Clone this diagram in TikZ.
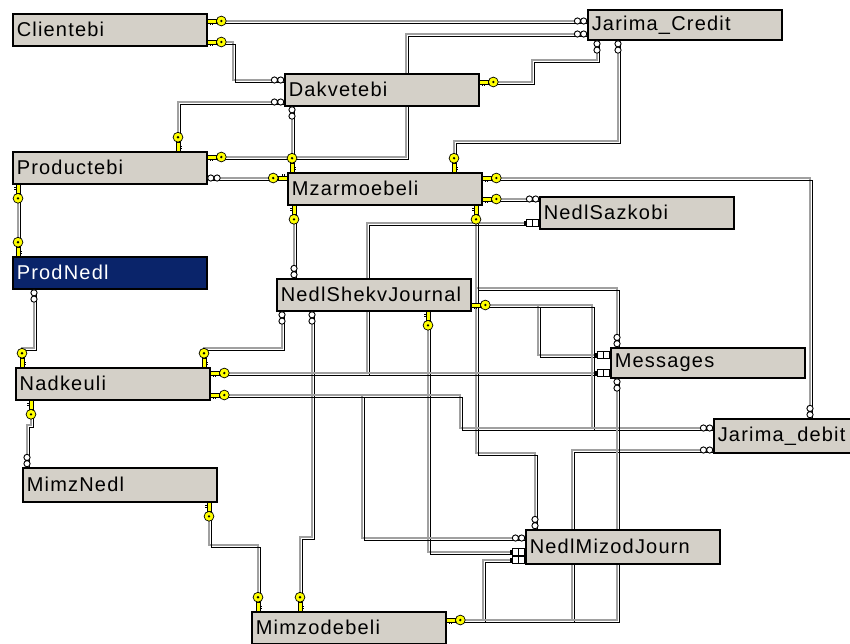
\documentclass[tikz,border=0pt]{standalone}
\usepackage{fontspec}
\setmainfont{Liberation Sans}
\newfontfamily\tblfont[LetterSpace=6]{Liberation Sans}
\usetikzlibrary{positioning, backgrounds}

\definecolor{winface}{HTML}{D4D0C8}
\definecolor{selblue}{HTML}{0A246A}
\definecolor{keyyellow}{HTML}{FFFF00}
\definecolor{shadegray}{HTML}{A0A0A0}

% relationship line: grey shade plus black core
\newcommand{\relpath}[1]{\draw[rel_shade] #1; \draw[rel_core] #1;}

\begin{document}
\begin{tikzpicture}[
    x=1pt, y=-1pt,
    % Table boxes
    table_box/.style={draw=black, line width=1.5pt, fill=winface, anchor=north west,
        minimum width=194pt, minimum height=32pt, text width=186pt, inner xsep=4pt,
        align=left, font=\tblfont\fontsize{20}{22}\selectfont},
    sel_box/.style={table_box, fill=selblue, text=white},
    % Relationship lines
    rel_shade/.style={draw=shadegray, line width=2.6pt},
    rel_core/.style={draw=black, line width=1.7pt, transform canvas={xshift=2.6pt, yshift=-2.6pt}},
    % Line ends
    key_end/.pic={
        \filldraw[fill=keyyellow, draw=black, line width=0.5pt] (0,-1.9) rectangle (9,1.9);
        \draw[black, line width=0.9pt] (2.5,1.9) -- (2.5,4.2) (5,1.9) -- (5,4.2);
        \filldraw[fill=keyyellow, draw=black, line width=0.7pt] (13.8,0) circle (4.9pt);
        \fill[black] (13.8,0) circle (1.3pt);
    },
    many_end/.pic={
        \filldraw[fill=white, draw=black, line width=0.9pt] (3.3,0) circle (3.1pt) (9.6,0) circle (3.1pt);
    },
    box_end/.pic={
        \filldraw[fill=white, draw=black, line width=0.9pt] (0.5,-3.2) rectangle (6.4,3.2) (6.4,-3.2) rectangle (12.3,3.2);
        \fill[black] (12.3,-2.2) rectangle (15.5,2.2);
    }
]
    \useasboundingbox (0,0) rectangle (850,643);

    % --- TABLES ---
    \node[table_box, minimum height=30pt] (jcr) at (587,9) {Jarima\_Credit};
    \node[table_box] (cli) at (12,13) {Clientebi};
    \node[table_box] (dak) at (284,73) {Dakvetebi};
    \node[table_box] (prd) at (12,151) {Productebi};
    \node[table_box] (mza) at (287,172) {Mzarmoebeli};
    \node[table_box] (nsz) at (539,196) {NedlSazkobi};
    \node[sel_box] (pnd) at (12,256) {ProdNedl};
    \node[table_box] (nsj) at (276,278) {NedlShekvJournal};
    \node[table_box, minimum height=30pt] (msg) at (610,347) {Messages};
    \node[table_box] (nad) at (15,367) {Nadkeuli};
    \node[table_box, minimum height=34pt] (jdb) at (713,418) {Jarima\_debit};
    \node[table_box, minimum height=34pt] (mmn) at (22,467) {MimzNedl};
    \node[table_box, minimum height=34pt] (nmj) at (525,529) {NedlMizodJourn};
    \node[table_box] (mmz) at (251,611) {Mimzodebeli};

    % --- RELATIONSHIPS ---
    \begin{pgfonlayer}{background}
        \relpath{(cli.east |- 0,21) -- (jcr.west |- 0,21)}
        \relpath{(cli.east |- 0,42) -| (233,80) -- (dak.west |- 0,80)}
        \relpath{(prd.east |- 0,157) -| (406,34) -- (jcr.west |- 0,34)}
        \relpath{(dak.east |- 0,82) -| (532,60) -| (jcr.south -| 597,0)}
        \relpath{(mza.north -| 454,0) |- (618,141) -- (jcr.south -| 618,0)}
        \relpath{(prd.north -| 178,0) |- (dak.west |- 0,102)}
        \relpath{(dak.south -| 292,0) -- (mza.north -| 292,0)}
        \relpath{(prd.east |- 0,178) -- (mza.west |- 0,178)}
        \relpath{(prd.south -| 18,0) -- (pnd.north -| 18,0)}
        \relpath{(pnd.south -| 34,0) |- (22,348) -- (nad.north -| 22,0)}
        \relpath{(nad.south -| 31,0) |- (27,425) -- (mmn.north -| 27,0)}
        \relpath{(mmn.south -| 209,0) |- (258,545) -- (mmz.north -| 258,0)}
        \relpath{(mza.south -| 294,0) -- (nsj.north -| 294,0)}
        \relpath{(nsj.south -| 282,0) |- (204,348) -- (nad.north -| 204,0)}
        \relpath{(nsj.south -| 312,0) |- (300,537) -- (mmz.north -| 300,0)}
        \relpath{(nsj.south -| 428,0) |- (nmj.west |- 0,552)}
        \relpath{(mza.south -| 476,0) |- (535,453) -- (nmj.north -| 535,0)}
        \relpath{(mza.south -| 476,0) |- (617,288) -- (msg.north -| 617,0)}
        \relpath{(mza.east |- 0,178) -| (jdb.north -| 810,0)}
        \relpath{(mza.east |- 0,199) -- (nsz.west |- 0,199)}
        \relpath{(nad.east |- 0,373) -| (367,223) -- (nsz.west |- 0,223)}
        \relpath{(nad.east |- 0,373) -- (msg.west |- 0,373)}
        \relpath{(nsj.east |- 0,305) -| (538,355) -- (msg.west |- 0,355)}
        \relpath{(nsj.east |- 0,305) -| (592,428) -- (jdb.west |- 0,428)}
        \relpath{(nad.east |- 0,395) -| (460,428) -- (jdb.west |- 0,428)}
        \relpath{(nad.east |- 0,395) -| (362,538) -- (nmj.west |- 0,538)}
        \relpath{(mmz.east |- 0,620) -| (483,560) -- (nmj.west |- 0,560)}
        \relpath{(mmz.east |- 0,620) -| (572,450) -- (jdb.west |- 0,450)}
        \relpath{(mmz.east |- 0,620) -| (msg.south -| 617,0)}
    \end{pgfonlayer}

    % --- KEY ENDS ---
    \pic at (cli.east |- 0,21) {key_end};
    \pic at (cli.east |- 0,42) {key_end};
    \pic at (prd.east |- 0,157) {key_end};
    \pic at (dak.east |- 0,82) {key_end};
    \pic[rotate=90] at (mza.north -| 454,0) {key_end};
    \pic[rotate=90] at (prd.north -| 178,0) {key_end};
    \pic[rotate=90] at (mza.north -| 292,0) {key_end};
    \pic[rotate=180] at (mza.west |- 0,178) {key_end};
    \pic[rotate=-90] at (prd.south -| 18,0) {key_end};
    \pic[rotate=90] at (pnd.north -| 18,0) {key_end};
    \pic[rotate=90] at (nad.north -| 22,0) {key_end};
    \pic[rotate=-90] at (nad.south -| 31,0) {key_end};
    \pic[rotate=-90] at (mmn.south -| 209,0) {key_end};
    \pic[rotate=90] at (mmz.north -| 258,0) {key_end};
    \pic[rotate=-90] at (mza.south -| 294,0) {key_end};
    \pic[rotate=90] at (nad.north -| 204,0) {key_end};
    \pic[rotate=90] at (mmz.north -| 300,0) {key_end};
    \pic[rotate=-90] at (nsj.south -| 428,0) {key_end};
    \pic[rotate=-90] at (mza.south -| 476,0) {key_end};
    \pic at (mza.east |- 0,178) {key_end};
    \pic at (mza.east |- 0,199) {key_end};
    \pic at (nad.east |- 0,373) {key_end};
    \pic at (nad.east |- 0,395) {key_end};
    \pic at (nsj.east |- 0,305) {key_end};
    \pic at (mmz.east |- 0,620) {key_end};

    % --- MANY ENDS ---
    \pic[rotate=180] at (jcr.west |- 0,21) {many_end};
    \pic[rotate=180] at (jcr.west |- 0,34) {many_end};
    \pic[rotate=180] at (dak.west |- 0,80) {many_end};
    \pic[rotate=180] at (dak.west |- 0,102) {many_end};
    \pic[rotate=-90] at (jcr.south -| 597,0) {many_end};
    \pic[rotate=-90] at (jcr.south -| 618,0) {many_end};
    \pic[rotate=-90] at (dak.south -| 292,0) {many_end};
    \pic at (prd.east |- 0,178) {many_end};
    \pic[rotate=-90] at (pnd.south -| 34,0) {many_end};
    \pic[rotate=90] at (mmn.north -| 27,0) {many_end};
    \pic[rotate=90] at (nsj.north -| 294,0) {many_end};
    \pic[rotate=-90] at (nsj.south -| 282,0) {many_end};
    \pic[rotate=-90] at (nsj.south -| 312,0) {many_end};
    \pic[rotate=90] at (nmj.north -| 535,0) {many_end};
    \pic[rotate=90] at (msg.north -| 617,0) {many_end};
    \pic[rotate=90] at (jdb.north -| 810,0) {many_end};
    \pic[rotate=180] at (nsz.west |- 0,199) {many_end};
    \pic[rotate=180] at (jdb.west |- 0,428) {many_end};
    \pic[rotate=180] at (jdb.west |- 0,450) {many_end};
    \pic[rotate=180] at (nmj.west |- 0,538) {many_end};
    \pic[rotate=-90] at (msg.south -| 617,0) {many_end};

    % --- BOX ENDS ---
    \pic[rotate=180] at (nsz.west |- 0,223) {box_end};
    \pic[rotate=180] at (msg.west |- 0,355) {box_end};
    \pic[rotate=180] at (msg.west |- 0,373) {box_end};
    \pic[rotate=180] at (nmj.west |- 0,552) {box_end};
    \pic[rotate=180] at (nmj.west |- 0,560) {box_end};

\end{tikzpicture}
\end{document}
